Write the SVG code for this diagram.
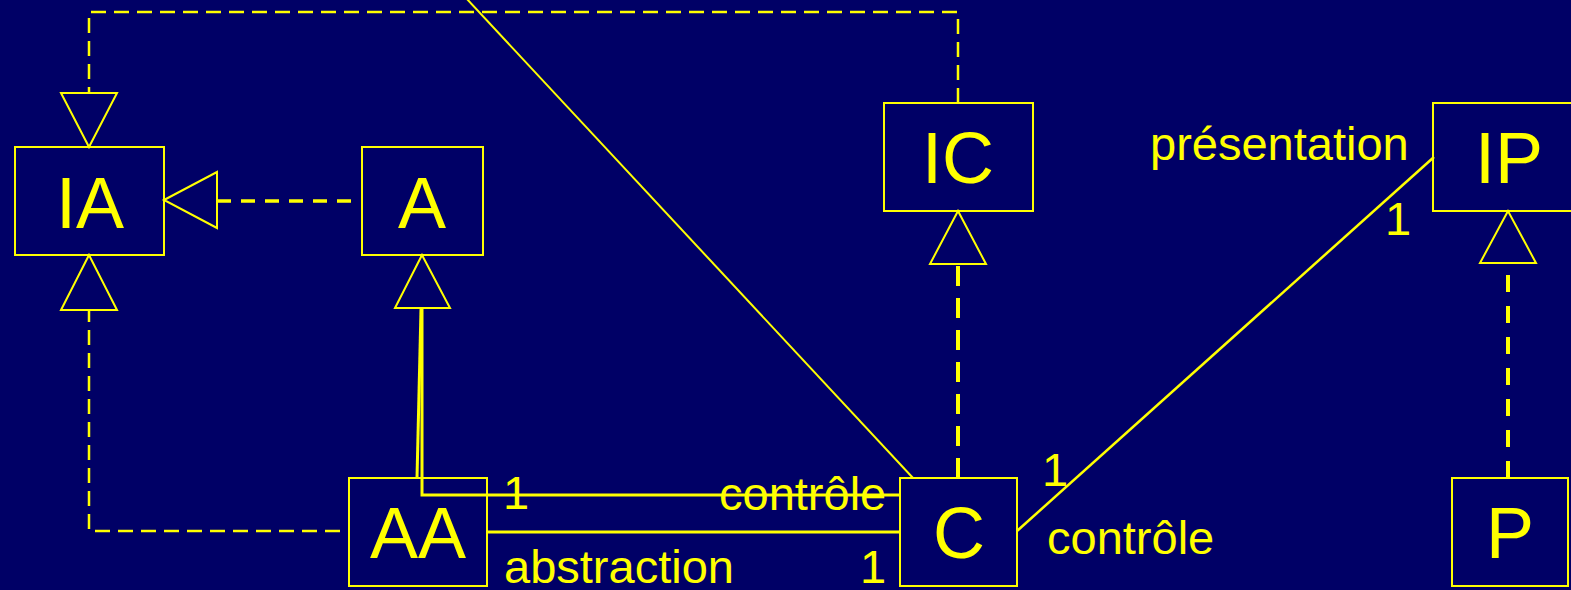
<svg xmlns="http://www.w3.org/2000/svg" width="1571" height="590" viewBox="0 0 1571 590">
<style>
.box{fill:none;stroke:#ffff00;stroke-width:2}
.big{font-family:"Liberation Sans",Arial,sans-serif;font-size:72px;fill:#ffff00;text-anchor:middle}
.lbl{font-family:"Liberation Sans",Arial,sans-serif;font-size:47px;fill:#ffff00}
.ln{fill:none;stroke:#ffff00}
.tri{fill:#000066;stroke:#ffff00;stroke-width:2}
</style>
<rect x="0" y="0" width="1571" height="590" fill="#000066"/>
<g id="IA"><rect class="box" x="15" y="147" width="149" height="108"/><text class="big" x="90" y="228">IA</text></g>
<g id="A"><rect class="box" x="362" y="147" width="121" height="108"/><text class="big" x="422" y="228">A</text></g>
<g id="IC"><rect class="box" x="884" y="103" width="149" height="108"/><text class="big" x="958" y="183">IC</text></g>
<g id="IP"><rect class="box" x="1433" y="103" width="150" height="108"/><text class="big" x="1509" y="183">IP</text></g>
<g id="AA"><rect class="box" x="349" y="478" width="138" height="108"/><text class="big" x="418" y="558">AA</text></g>
<g id="C"><rect class="box" x="900" y="478" width="117" height="108"/><text class="big" x="959" y="558">C</text></g>
<g id="P"><rect class="box" x="1452" y="478" width="116" height="108"/><text class="big" x="1510" y="558">P</text></g>
<g id="connectors">
<path class="ln" stroke-width="2.5" stroke-dasharray="15 8" d="M958,103 V12 H89 V93"/>
<path class="ln" stroke-width="3.5" stroke-dasharray="14 10" d="M217,201 H362"/>
<path class="ln" stroke-width="2.5" stroke-dasharray="15 8" d="M340,531 H89 V310"/>
<path class="ln" stroke-width="4" stroke-dasharray="20 12" d="M958,478 V264"/>
<path class="ln" stroke-width="4" stroke-dasharray="17 14" d="M1508,478 V263"/>
<path class="ln" stroke-width="2" d="M466,-2 L913,478"/>
<path class="ln" stroke-width="3" d="M417,478 L421,309"/>
<path class="ln" stroke-width="3" d="M422,309 V495 H900"/>
<path class="ln" stroke-width="3" d="M487,532 H900"/>
<path class="ln" stroke-width="2.5" d="M1017,531 L1434,157"/>
<polygon class="tri" points="61,93 117,93 89,147"/>
<polygon class="tri" points="89,255 61,310 117,310"/>
<polygon class="tri" points="164,200 217,172 217,228"/>
<polygon class="tri" points="422,255 395,308 450,308"/>
<polygon class="tri" points="958,211 930,264 986,264"/>
<polygon class="tri" points="1508,211 1480,263 1536,263"/>
<text class="lbl" x="1150" y="160">présentation</text>
<text class="lbl" x="1385" y="235">1</text>
<text class="lbl" x="1042" y="486">1</text>
<text class="lbl" x="1047" y="554">contrôle</text>
<text class="lbl" x="503" y="509">1</text>
<text class="lbl" x="719" y="510">contrôle</text>
<text class="lbl" x="504" y="583">abstraction</text>
<text class="lbl" x="860" y="583">1</text>
</g>
</svg>
